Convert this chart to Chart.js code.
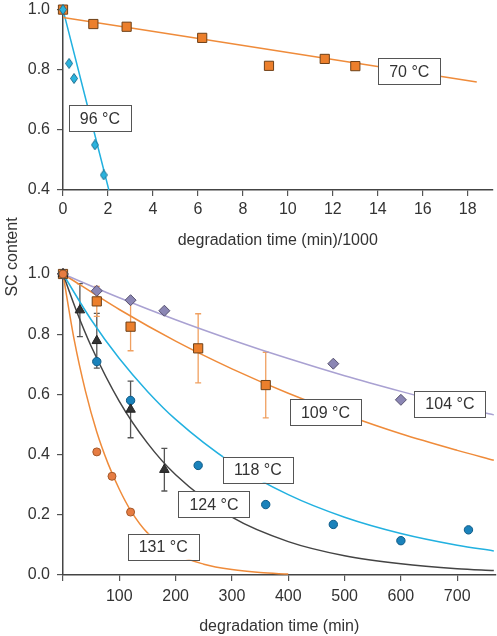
<!DOCTYPE html>
<html>
<head>
<meta charset="utf-8">
<script src="https://cdn.jsdelivr.net/npm/chart.js@4.4.1/dist/chart.umd.min.js"></script>
<style>
  body { margin: 0; background: #fff; }
  #wrap { position: relative; width: 497px; height: 636px; overflow: hidden; font-family: 'Liberation Sans', Arial, sans-serif; }
  #topChart { position: absolute; left: 0; top: -7px; }
  #bottomChart { position: absolute; left: 0; top: 251px; }
  #yTitle {
    position: absolute; left: -48px; top: 247px; width: 120px; height: 20px;
    line-height: 20px; text-align: center; font-size: 16px; color: #333;
    transform: rotate(-90deg);
  }
</style>
</head>
<body>
<div id="wrap">
  <canvas id="topChart" width="500" height="259"></canvas>
  <canvas id="bottomChart" width="503" height="387"></canvas>
  <div id="yTitle">SC content</div>
</div>
<script>
// top panel: time in min/1000
const t70 = [0, 1.35, 2.83, 6.19, 9.16, 11.64, 13.0];
const sc70 = [1.0, 0.952, 0.943, 0.906, 0.813, 0.836, 0.812];
const t96 = [0, 0.27, 0.49, 1.42, 1.81];
const sc96 = [1.0, 0.821, 0.771, 0.55, 0.45];
const fitT70 = [0, 18.4];
const fitSc70 = [0.974, 0.759];
const fitT96 = [0, 2.04];
const fitSc96 = [1.0, 0.4];
const topXTicks = [0, 2, 4, 6, 8, 10, 12, 14, 16, 18];
const topYTicks = [0.4, 0.6, 0.8, 1.0];
const topLabels = [
    { text: '96 °C', x: 1.64, y: 0.638 },
    { text: '70 °C', x: 15.4, y: 0.795 }
];

// bottom panel: time in min
const t104 = [0, 60, 120, 180, 480, 600];
const sc104 = [1.0, 0.944, 0.913, 0.878, 0.702, 0.582];
const t109 = [0, 60, 120, 240, 360];
const sc109 = [1.0, 0.909, 0.825, 0.753, 0.631];
const err109 = [0, 0.05, 0.08, 0.115, 0.109];
const t118 = [0, 60, 120, 240, 360, 480, 600, 720];
const sc118 = [1.0, 0.709, 0.58, 0.364, 0.234, 0.168, 0.114, 0.15];
const t124 = [0, 30, 60, 120, 180];
const sc124 = [1.0, 0.88, 0.778, 0.55, 0.35];
const err124 = [0, 0.088, 0.091, 0.094, 0.071];
const t131 = [0, 60, 87, 120];
const sc131 = [1.0, 0.409, 0.328, 0.209];

const fitT104 = [0, 100, 200, 300, 400, 500, 600, 700, 765];
const fitSc104 = [1.0, 0.921, 0.848, 0.781, 0.719, 0.662, 0.610, 0.561, 0.532];
const fitT109 = [0, 100, 200, 300, 400, 500, 600, 700, 765];
const fitSc109 = [1.0, 0.882, 0.777, 0.685, 0.604, 0.533, 0.469, 0.414, 0.381];
const fitT118 = [0, 50, 100, 150, 200, 300, 400, 500, 600, 700, 765];
const fitSc118 = [1.0, 0.848, 0.719, 0.610, 0.517, 0.372, 0.267, 0.192, 0.138, 0.099, 0.080];
const fitT124 = [0, 25, 50, 100, 150, 200, 300, 400, 500, 600, 700, 765];
const fitSc124 = [1.0, 0.872, 0.760, 0.577, 0.438, 0.333, 0.192, 0.111, 0.064, 0.037, 0.021, 0.015];
const fitT131 = [0, 20, 40, 60, 80, 100, 120, 150, 200, 250, 300, 350, 400];
const fitSc131 = [1.0, 0.78, 0.61, 0.475, 0.37, 0.285, 0.215, 0.14, 0.07, 0.036, 0.018, 0.008, 0.003];
const bottomXTicks = [0, 100, 200, 300, 400, 500, 600, 700];
const bottomYTicks = [0, 0.2, 0.4, 0.6, 0.8, 1.0];
const bottomLabels = [
    { text: '104 °C', x: 687, y: 0.568 },
    { text: '109 °C', x: 466, y: 0.54 },
    { text: '118 °C', x: 346, y: 0.35 },
    { text: '124 °C', x: 268, y: 0.235 },
    { text: '131 °C', x: 178, y: 0.094 }
];

const FONT = "'Liberation Sans', Arial, sans-serif";
const ORANGE = '#ef8b3a';

// narrow, tall diamond used for the 96 °C points
const tallDiamond = document.createElement('canvas');
tallDiamond.width = 8;
tallDiamond.height = 11;
(function () {
    const c = tallDiamond.getContext('2d');
    c.beginPath();
    c.moveTo(4, 0.5); c.lineTo(7.5, 5.5); c.lineTo(4, 10.5); c.lineTo(0.5, 5.5);
    c.closePath();
    c.fillStyle = '#2ab3de';
    c.fill();
    c.strokeStyle = '#1c6f8f';
    c.lineWidth = 1;
    c.stroke();
})();

function pts(xs, ys) {
    return xs.map((x, i) => ({ x: x, y: ys[i] }));
}

function markers(xs, ys, style, fill, border, radius, err, errColor) {
    return {
        data: pts(xs, ys),
        pointStyle: style,
        pointRadius: radius,
        pointBackgroundColor: fill,
        pointBorderColor: border,
        pointBorderWidth: 1,
        showLine: false,
        clip: false,
        order: 1,
        errors: err,
        errorColor: errColor
    };
}

function fitLine(xs, ys, color) {
    return {
        data: pts(xs, ys),
        showLine: true,
        borderColor: color,
        borderWidth: 1.5,
        pointRadius: 0,
        cubicInterpolationMode: 'monotone',
        clip: false,
        order: 2
    };
}

// error bars under the markers, label boxes on top
const decorPlugin = {
    id: 'decor',
    beforeDatasetsDraw(chart) {
        const ctx = chart.ctx;
        const xs = chart.scales.x, ys = chart.scales.y;
        chart.data.datasets.forEach(ds => {
            if (!ds.errors) return;
            ctx.save();
            ctx.strokeStyle = ds.errorColor;
            ctx.lineWidth = 1.3;
            ds.data.forEach((p, i) => {
                const e = ds.errors[i];
                if (!e) return;
                const px = xs.getPixelForValue(p.x);
                const y1 = ys.getPixelForValue(p.y + e);
                const y2 = ys.getPixelForValue(p.y - e);
                ctx.beginPath();
                ctx.moveTo(px, y1); ctx.lineTo(px, y2);
                ctx.moveTo(px - 3, y1); ctx.lineTo(px + 3, y1);
                ctx.moveTo(px - 3, y2); ctx.lineTo(px + 3, y2);
                ctx.stroke();
            });
            ctx.restore();
        });
    },
    afterDatasetsDraw(chart) {
        const ctx = chart.ctx;
        const xs = chart.scales.x, ys = chart.scales.y;
        const labels = chart.options.plugins.decor.labels || [];
        ctx.save();
        ctx.font = '16px ' + FONT;
        labels.forEach(l => {
            const cx = xs.getPixelForValue(l.x);
            const cy = ys.getPixelForValue(l.y);
            const w = ctx.measureText(l.text).width + 22;
            const h = 26;
            ctx.fillStyle = '#fff';
            ctx.fillRect(cx - w / 2, cy - h / 2, w, h);
            ctx.strokeStyle = '#555';
            ctx.lineWidth = 1;
            ctx.strokeRect(Math.round(cx - w / 2) + 0.5, Math.round(cy - h / 2) + 0.5, Math.round(w), h);
            ctx.fillStyle = '#333';
            ctx.textAlign = 'center';
            ctx.textBaseline = 'middle';
            ctx.fillText(l.text, cx, cy + 1);
        });
        ctx.restore();
    }
};

function axisOptions(min, max, ticks, fmt, axisHeight, titleText, isX, labelPad) {
    const opt = {
        type: 'linear',
        min: min,
        max: max,
        afterBuildTicks: s => { s.ticks = ticks.map(v => ({ value: v })); },
        grid: { display: true, drawOnChartArea: false, drawTicks: true, tickLength: 6, color: '#555', lineWidth: 1.2 },
        border: { display: true, color: '#444', width: 1.5 },
        ticks: {
            color: '#333',
            font: { family: FONT, size: 16 },
            padding: labelPad,
            maxRotation: 0,
            autoSkip: false,
            callback: fmt
        }
    };
    if (isX) {
        opt.title = { display: true, text: titleText, color: '#333', font: { family: FONT, size: 16 }, padding: { top: 0, bottom: 2 } };
        opt.afterFit = s => { s.height = axisHeight; };
    } else {
        opt.afterFit = s => { s.width = 63; };
    }
    return opt;
}

const commonOpts = {
    responsive: false,
    animation: false,
    devicePixelRatio: 1,
    plugins: { legend: { display: false }, tooltip: { enabled: false } }
};

new Chart(document.getElementById('topChart'), {
    type: 'scatter',
    data: {
        datasets: [
            markers(t96, sc96, tallDiamond, '#2ab3de', '#1c6f8f', 5),
            markers(t70, sc70, 'rect', '#ec7f2c', '#6e4018', 6.5),
            fitLine(fitT70, fitSc70, ORANGE),
            fitLine(fitT96, fitSc96, '#22b1e0')
        ]
    },
    options: Object.assign({}, commonOpts, {
        layout: { padding: { left: 0, right: 4, top: 9, bottom: 0 } },
        scales: {
            x: axisOptions(0, 19.1, topXTicks, v => String(v), 62, 'degradation time (min)/1000', true, 4),
            y: axisOptions(0.4, 1.0, topYTicks, v => v.toFixed(1), 0, '', false, 7)
        },
        plugins: Object.assign({}, commonOpts.plugins, { decor: { labels: topLabels } })
    }),
    plugins: [decorPlugin]
});

new Chart(document.getElementById('bottomChart'), {
    type: 'scatter',
    data: {
        datasets: [
            markers(t131, sc131, 'circle', '#e67c42', '#a4582a', 4),
            markers(t124, sc124, 'triangle', '#333', '#222', 5.5, err124, '#555'),
            markers(t118, sc118, 'circle', '#1a82bb', '#0e5a86', 4.2),
            markers(t109, sc109, 'rect', '#ec7f2c', '#6e4018', 6.5, err109, '#f0a060'),
            markers(t104, sc104, 'rectRot', '#8b86b4', '#55506e', 5.5),
            fitLine(fitT104, fitSc104, '#a9a1d2'),
            fitLine(fitT109, fitSc109, ORANGE),
            fitLine(fitT118, fitSc118, '#22b1e0'),
            fitLine(fitT124, fitSc124, '#444'),
            fitLine(fitT131, fitSc131, ORANGE)
        ]
    },
    options: Object.assign({}, commonOpts, {
        layout: { padding: { left: 0, right: 2, top: 23, bottom: 0 } },
        scales: {
            x: axisOptions(0, 768, bottomXTicks, v => (v === 0 ? '' : String(v)), 63, 'degradation time (min)', true, 6),
            y: axisOptions(0, 1.0, bottomYTicks, v => v.toFixed(1), 0, '', false, 7)
        },
        plugins: Object.assign({}, commonOpts.plugins, { decor: { labels: bottomLabels } })
    }),
    plugins: [decorPlugin]
});
</script>
</body>
</html>
